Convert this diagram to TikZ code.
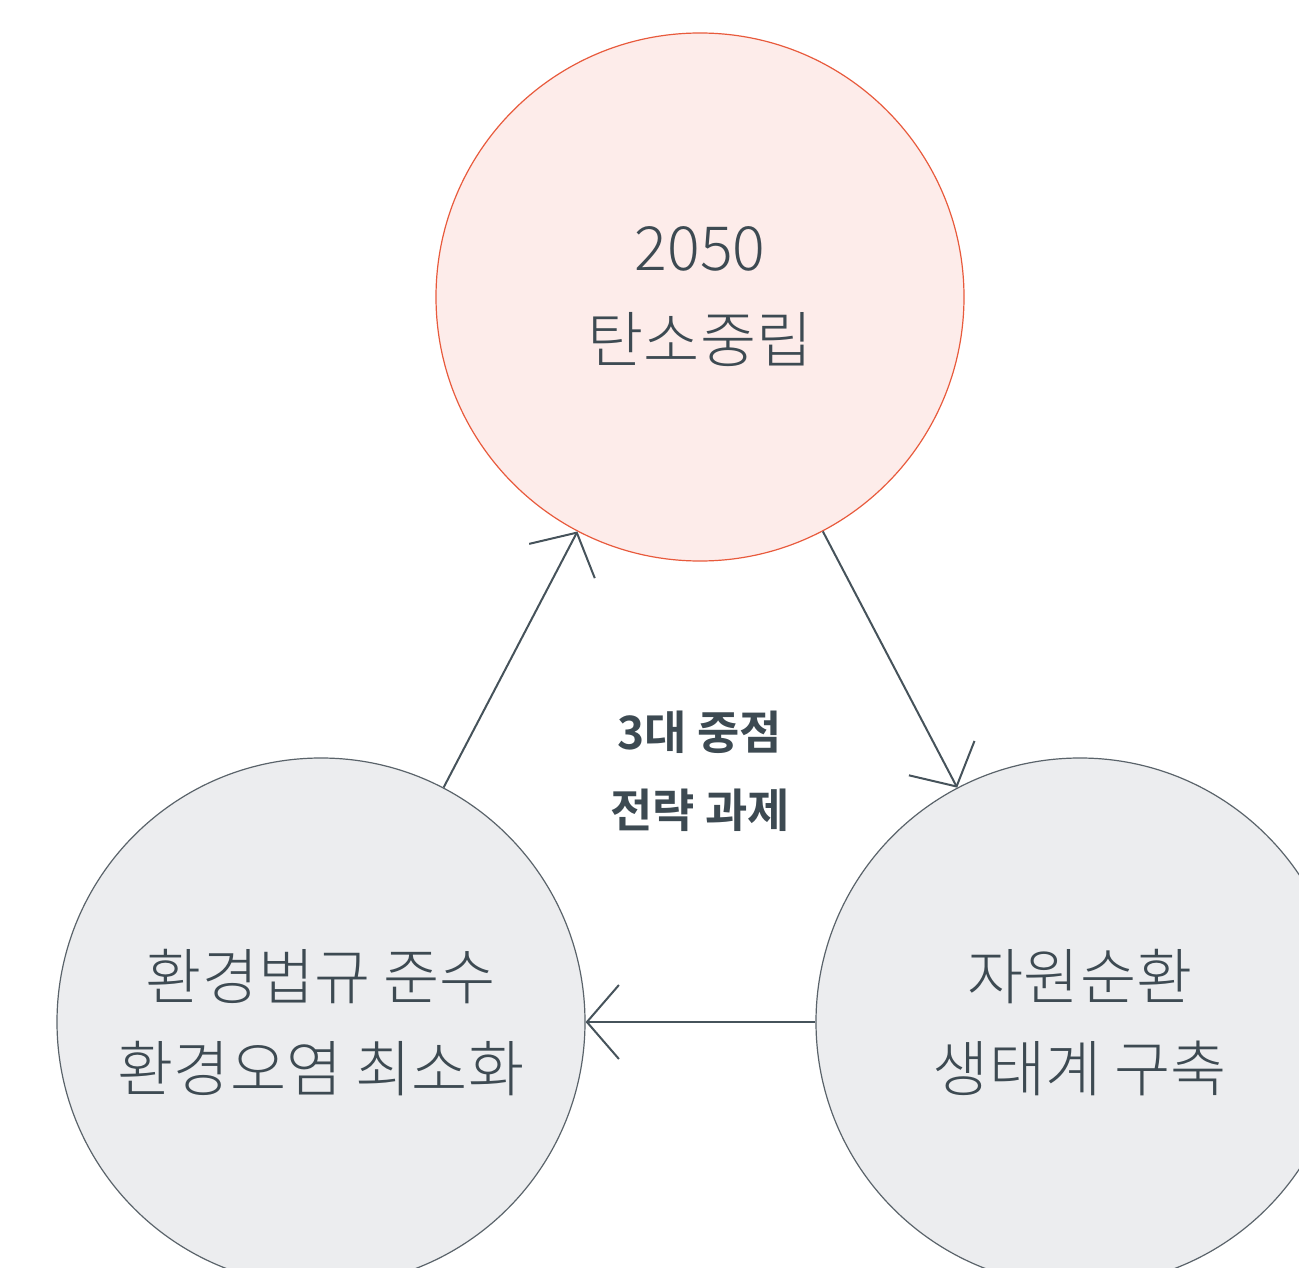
\documentclass[tikz,border=0pt]{standalone}
\usepackage{fontspec}
\usetikzlibrary{arrows.meta}
\newfontfamily\cjkl{Noto Sans CJK KR Light}
\newfontfamily\cjkb{Noto Sans CJK KR Bold}
\definecolor{txt}{HTML}{3D4A52}
\definecolor{redline}{HTML}{E85A3C}
\definecolor{redfill}{HTML}{FDECEA}
\definecolor{grayline}{HTML}{5A636A}
\definecolor{grayfill}{HTML}{ECEDEF}
\definecolor{arrowc}{HTML}{46535B}
\begin{document}
\begin{tikzpicture}[x=1pt,y=-1pt,
  bigcirc/.style={circle,minimum size=528pt,inner sep=0pt,line width=1.2pt},
  redc/.style={bigcirc,draw=redline,fill=redfill},
  grayc/.style={bigcirc,draw=grayline,fill=grayfill},
  label/.style={text=txt,align=center,font=\cjkl\fontsize{61}{92}\selectfont},
  center/.style={text=txt,align=center,font=\cjkb\fontsize{46}{78}\selectfont},
  conn/.style={draw=arrowc,line width=2pt,-{Straight Barb[length=32pt,width=74pt,line width=2pt]}}
]
\useasboundingbox (0,0) rectangle (1299,1268);
\begin{scope}
\clip (0,0) rectangle (1299,1268);
\node[redc] (top) at (700,297) {};
\node[grayc] (left) at (321,1022) {};
\node[grayc] (right) at (1080,1022) {};
\end{scope}
\node[label] (toptxt) at (700,297) {2050\\탄소중립};
\node[label] (lefttxt) at (321,1023) {환경법규 준수\\환경오염 최소화};
\node[label] (righttxt) at (1080,1023) {자원순환\\생태계 구축};
\node[center] (mid) at (700,771) {3대 중점\\전략 과제};
\draw[conn] (left) -- (top);
\draw[conn] (top) -- (right);
\draw[conn] (right) -- (left);
\end{tikzpicture}
\end{document}
